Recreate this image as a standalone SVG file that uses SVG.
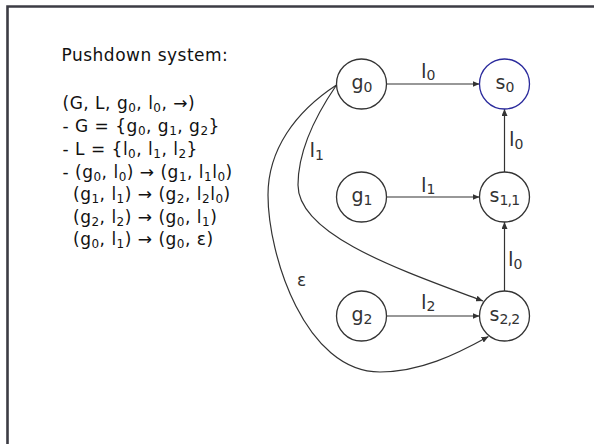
<svg xmlns="http://www.w3.org/2000/svg" width="594" height="444" viewBox="0 0 594 444">
<style>
.frame{fill:none;stroke:#3c3c44;stroke-width:2.6}
.node{fill:#fff;stroke:#333;stroke-width:1.3}
.blue{stroke:#2a2a9c}
.edge{fill:none;stroke:#333;stroke-width:1.2}
.lt{font-family:"DejaVu Sans","Liberation Sans",sans-serif;fill:#111;font-size:17px;letter-spacing:0.5px}
.ls{font-size:12px}
.nl{font-family:"DejaVu Sans","Liberation Sans",sans-serif;fill:#333;font-size:19px;text-anchor:middle}
.ns{font-size:14px;letter-spacing:-0.8px}
.el{font-family:"DejaVu Sans","Liberation Sans",sans-serif;fill:#333;font-size:20px}
.es{font-size:14px}
</style>
<defs>
<marker id="arr" markerUnits="userSpaceOnUse" markerWidth="7" markerHeight="6" refX="7" refY="3" orient="auto">
<path d="M0,0 L7,3 L0,6 z" fill="#333"/>
</marker>
</defs>
<path class="frame" d="M7.5,444 V6.5 H594"/>
<g id="description">
<text class="lt" x="61.5" y="60.5">Pushdown system:</text>
<text class="lt" x="62.5" y="109">(G, L, g<tspan class="ls" dy="3">0</tspan><tspan dy="-3">, l</tspan><tspan class="ls" dy="3">0</tspan><tspan dy="-3">, →)</tspan></text>
<text class="lt" x="62.5" y="132">- G = {g<tspan class="ls" dy="3">0</tspan><tspan dy="-3">, g</tspan><tspan class="ls" dy="3">1</tspan><tspan dy="-3">, g</tspan><tspan class="ls" dy="3">2</tspan><tspan dy="-3">}</tspan></text>
<text class="lt" x="62.5" y="155">- L = {l<tspan class="ls" dy="3">0</tspan><tspan dy="-3">, l</tspan><tspan class="ls" dy="3">1</tspan><tspan dy="-3">, l</tspan><tspan class="ls" dy="3">2</tspan><tspan dy="-3">}</tspan></text>
<text class="lt" x="62.5" y="177.5">- (g<tspan class="ls" dy="3">0</tspan><tspan dy="-3">, l</tspan><tspan class="ls" dy="3">0</tspan><tspan dy="-3">) → (g</tspan><tspan class="ls" dy="3">1</tspan><tspan dy="-3">, l</tspan><tspan class="ls" dy="3">1</tspan><tspan dy="-3">l</tspan><tspan class="ls" dy="3">0</tspan><tspan dy="-3">)</tspan></text>
<text class="lt" x="73" y="200">(g<tspan class="ls" dy="3">1</tspan><tspan dy="-3">, l</tspan><tspan class="ls" dy="3">1</tspan><tspan dy="-3">) → (g</tspan><tspan class="ls" dy="3">2</tspan><tspan dy="-3">, l</tspan><tspan class="ls" dy="3">2</tspan><tspan dy="-3">l</tspan><tspan class="ls" dy="3">0</tspan><tspan dy="-3">)</tspan></text>
<text class="lt" x="73" y="222.5">(g<tspan class="ls" dy="3">2</tspan><tspan dy="-3">, l</tspan><tspan class="ls" dy="3">2</tspan><tspan dy="-3">) → (g</tspan><tspan class="ls" dy="3">0</tspan><tspan dy="-3">, l</tspan><tspan class="ls" dy="3">1</tspan><tspan dy="-3">)</tspan></text>
<text class="lt" x="73" y="245">(g<tspan class="ls" dy="3">0</tspan><tspan dy="-3">, l</tspan><tspan class="ls" dy="3">1</tspan><tspan dy="-3">) → (g</tspan><tspan class="ls" dy="3">0</tspan><tspan dy="-3">, ε)</tspan></text>
</g>
<g id="connectors">
<path class="edge" marker-end="url(#arr)" d="M386.5,84 H479.5"/>
<path class="edge" marker-end="url(#arr)" d="M386.5,197 H479.5"/>
<path class="edge" marker-end="url(#arr)" d="M386.5,316 H479.5"/>
<path class="edge" marker-end="url(#arr)" d="M504.5,172 V109"/>
<path class="edge" marker-end="url(#arr)" d="M504.5,291 V222"/>
<path class="edge" marker-end="url(#arr)" d="M336.5,85 C318,112 298,150 298,185 C298,235 400,270 483,301"/>
<path class="edge" marker-end="url(#arr)" d="M336.5,85 C295,112 268,150 268,195 C268,255 305,372 380,372 C420,372 455,355 488.5,336.5"/>
<text class="el" x="421" y="78">l<tspan class="es" dy="2">0</tspan></text>
<text class="el" x="421" y="192">l<tspan class="es" dy="2">1</tspan></text>
<text class="el" x="421" y="309">l<tspan class="es" dy="2">2</tspan></text>
<text class="el" x="509" y="146">l<tspan class="es" dy="3">0</tspan></text>
<text class="el" x="508" y="266">l<tspan class="es" dy="3">0</tspan></text>
<text class="el" x="309.5" y="156.5">l<tspan class="es" dy="3">1</tspan></text>
<text class="el" x="297" y="286" style="font-size:17px">ε</text>
</g>
<g id="g0"><circle class="node" cx="361.5" cy="84" r="25"/><text class="nl" x="361.5" y="89">g<tspan class="ns" dy="3">0</tspan></text></g>
<g id="g1"><circle class="node" cx="361.5" cy="197" r="25"/><text class="nl" x="361.5" y="202">g<tspan class="ns" dy="3">1</tspan></text></g>
<g id="g2"><circle class="node" cx="361.5" cy="316" r="25"/><text class="nl" x="361.5" y="321">g<tspan class="ns" dy="3">2</tspan></text></g>
<g id="s0"><circle class="node blue" cx="504.5" cy="84" r="25"/><text class="nl" x="504.5" y="89">s<tspan class="ns" dy="3">0</tspan></text></g>
<g id="s11"><circle class="node" cx="504.5" cy="197" r="25"/><text class="nl" x="504.5" y="202">s<tspan class="ns" dy="3">1,1</tspan></text></g>
<g id="s22"><circle class="node" cx="504.5" cy="316" r="25"/><text class="nl" x="504.5" y="321">s<tspan class="ns" dy="3">2,2</tspan></text></g>
</svg>
